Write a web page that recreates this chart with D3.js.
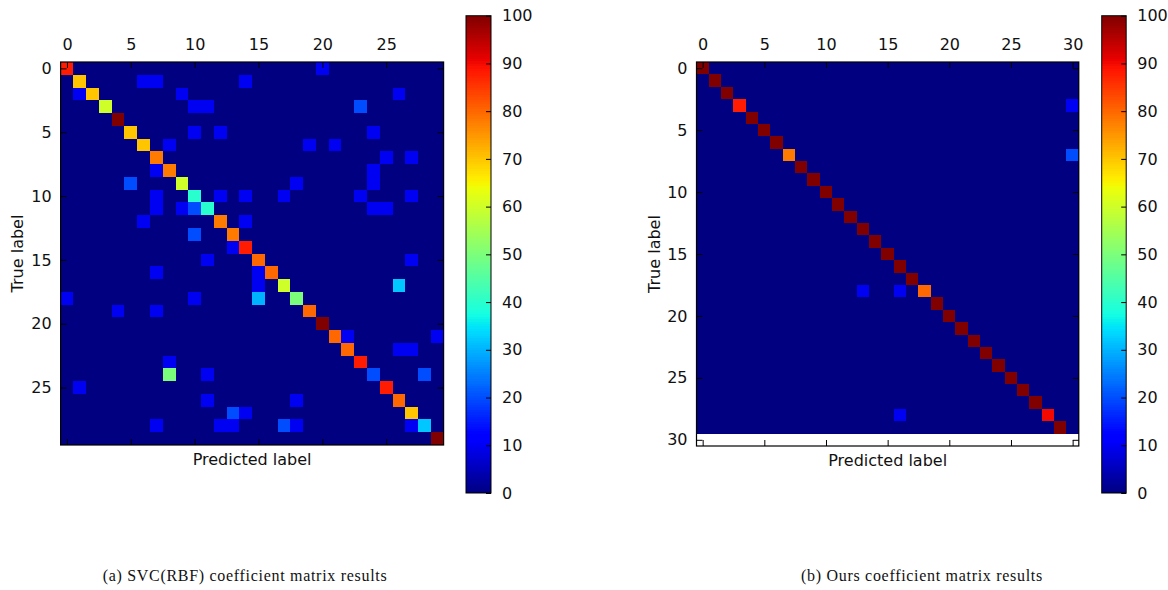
<!DOCTYPE html>
<html>
<head>
<meta charset="utf-8">
<script src="https://cdn.jsdelivr.net/npm/d3@7"></script>
<style>
  html, body { margin: 0; padding: 0; background: #fff; }
  svg { display: block; }
  .tick-label { font-family: "DejaVu Sans", sans-serif; font-size: 16px; fill: #111; }
  .axis-title { font-family: "DejaVu Sans", sans-serif; font-size: 16px; fill: #111; }
  .caption { font-family: "Liberation Serif", "Times New Roman", serif; font-size: 16px; letter-spacing: 0.7px; fill: #111; }
</style>
</head>
<body>
<svg id="chart" width="1168" height="590"></svg>
<script>
// ---------- DATA ----------
// (a) SVC(RBF): 30x30 matrix, diagonal values (%)
const leftDiag = [88, 70, 70, 60, 100, 70, 70, 78, 78, 60,
                  40, 40, 78, 78, 88, 80, 80, 60, 50, 80,
                  100, 80, 80, 88, 20, 88, 80, 70, 32, 100];
// off-diagonal entries [row, col, value]
const leftOff = [
  [0,20,10],
  [1,6,10],[1,7,10],[1,14,10],
  [2,1,10],[2,9,10],[2,26,10],
  [3,10,10],[3,11,10],[3,23,20],
  [5,10,10],[5,12,10],[5,24,10],
  [6,8,10],[6,19,10],[6,21,10],
  [7,25,10],[7,27,10],
  [8,7,10],[8,24,10],
  [9,5,20],[9,18,10],[9,24,10],
  [10,7,10],[10,12,10],[10,14,10],[10,17,10],[10,23,10],[10,27,10],
  [11,7,10],[11,9,10],[11,10,20],[11,24,10],[11,25,10],
  [12,6,10],[12,14,10],
  [13,10,20],
  [14,13,10],
  [15,11,10],[15,27,10],
  [16,7,10],[16,15,10],
  [17,15,10],[17,26,32],
  [18,0,10],[18,10,10],[18,15,30],
  [19,4,10],[19,7,10],
  [21,22,10],[21,29,10],
  [22,26,10],[22,27,10],
  [23,8,10],
  [24,8,50],[24,11,10],[24,28,20],
  [25,1,10],
  [26,11,10],[26,18,10],
  [27,13,20],[27,14,10],
  [28,7,10],[28,12,10],[28,13,10],[28,17,20],[28,18,10],[28,27,10]
];
// (b) Ours: 30 rows x 31 columns
const rightDiag = [100, 100, 100, 88, 100, 100, 100, 78, 100, 100,
                   100, 100, 100, 100, 100, 100, 100, 100, 80, 100,
                   100, 100, 100, 100, 100, 100, 100, 100, 90, 100];
const rightOff = [[3,30,10],[7,30,20],[18,13,10],[18,16,10],[28,16,10]];

const leftTicks = [0, 5, 10, 15, 20, 25];
const rightTicks = [0, 5, 10, 15, 20, 25, 30];
const cbarTicks = [0, 10, 20, 30, 40, 50, 60, 70, 80, 90, 100];
const captions = ["(a) SVC(RBF) coefficient matrix results", "(b) Ours coefficient matrix results"];
const xTitle = "Predicted label";
const yTitle = "True label";

// ---------- COLORMAP (matplotlib jet) ----------
const jr = d3.scaleLinear().domain([0, 0.35, 0.66, 0.89, 1]).range([0, 0, 1, 1, 0.5]).clamp(true);
const jg = d3.scaleLinear().domain([0, 0.125, 0.375, 0.64, 0.91, 1]).range([0, 0, 1, 1, 0, 0]).clamp(true);
const jb = d3.scaleLinear().domain([0, 0.11, 0.34, 0.65, 1]).range([0.5, 1, 1, 0, 0]).clamp(true);
const jet = v => { const t = v / 100; return d3.rgb(jr(t) * 255, jg(t) * 255, jb(t) * 255).toString(); };

function buildMatrix(nr, nc, diag, off) {
  const cells = [];
  for (let r = 0; r < nr; r++) for (let c = 0; c < nc; c++) cells.push({ r, c, v: 0 });
  diag.forEach((v, i) => { cells[i * nc + i].v = v; });
  off.forEach(([r, c, v]) => { cells[r * nc + c].v = v; });
  return cells;
}

const svg = d3.select("#chart");

function drawPanel(opt) {
  const g = svg.append("g");
  const x = d3.scaleLinear().domain(opt.xDomain).range([opt.x0, opt.x0 + opt.w]);
  const y = d3.scaleLinear().domain(opt.yDomain).range([opt.y0, opt.y0 + opt.h]);
  const cells = buildMatrix(opt.nr, opt.nc, opt.diag, opt.off);
  g.selectAll("rect.cell").data(cells).enter().append("rect")
    .attr("class", "cell")
    .attr("x", d => x(d.c - 0.5))
    .attr("y", d => y(d.r - 0.5))
    .attr("width", d => x(d.c + 0.5) - x(d.c - 0.5) + 0.3)
    .attr("height", d => y(d.r + 0.5) - y(d.r - 0.5) + 0.3)
    .attr("fill", d => jet(d.v))
    .attr("shape-rendering", "crispEdges");

  const tl = 6;
  const top = d3.axisTop(x).tickValues(opt.ticks).tickSizeInner(-tl).tickSizeOuter(0).tickPadding(tl + 6);
  const bottom = d3.axisBottom(x).tickValues(opt.ticks).tickSizeInner(-tl).tickSizeOuter(0).tickFormat("");
  const left = d3.axisLeft(y).tickValues(opt.yticks).tickSizeInner(-tl).tickSizeOuter(0).tickPadding(tl + 3);
  const right = d3.axisRight(y).tickValues(opt.yticks).tickSizeInner(-tl).tickSizeOuter(0).tickFormat("");

  const gt = g.append("g").attr("transform", `translate(0,${opt.y0})`).call(top);
  const gb = g.append("g").attr("transform", `translate(0,${opt.y0 + opt.h})`).call(bottom);
  const gl = g.append("g").attr("transform", `translate(${opt.x0},0)`).call(left);
  const gr = g.append("g").attr("transform", `translate(${opt.x0 + opt.w},0)`).call(right);
  [gt, gb, gl, gr].forEach(a => {
    a.select(".domain").remove();
    a.selectAll("line").attr("stroke", "#000").attr("stroke-width", 1);
    a.selectAll("text").attr("class", "tick-label").attr("font-size", null).attr("font-family", null).attr("fill", null);
  });
  g.append("rect").attr("x", opt.x0).attr("y", opt.y0).attr("width", opt.w).attr("height", opt.h)
    .attr("fill", "none").attr("stroke", "#000").attr("stroke-width", 1.2);

  g.append("text").attr("class", "axis-title")
    .attr("x", opt.x0 + opt.w / 2).attr("y", opt.y0 + opt.h + 20)
    .attr("text-anchor", "middle").text(xTitle);
  g.append("text").attr("class", "axis-title")
    .attr("transform", `translate(${opt.ytx},${opt.y0 + opt.h / 2}) rotate(-90)`)
    .attr("text-anchor", "middle").text(yTitle);

  // colorbar
  const cb = svg.append("g");
  const cy = d3.scaleLinear().domain([0, 100]).range([opt.cbY1, opt.cbY0]);
  const steps = d3.range(0, 100, 0.5);
  cb.selectAll("rect.cb").data(steps).enter().append("rect")
    .attr("x", opt.cbX).attr("width", opt.cbW)
    .attr("y", d => cy(d + 0.5)).attr("height", d => cy(d) - cy(d + 0.5) + 0.4)
    .attr("fill", d => jet(d + 0.25))
    .attr("shape-rendering", "crispEdges");
  const cax = d3.axisRight(cy).tickValues(cbarTicks).tickSizeInner(-5).tickSizeOuter(0).tickPadding(11);
  const gc = cb.append("g").attr("transform", `translate(${opt.cbX + opt.cbW},0)`).call(cax);
  gc.select(".domain").remove();
  gc.selectAll("line").attr("stroke", "#000");
  gc.selectAll("text").attr("class", "tick-label").attr("font-size", null).attr("font-family", null).attr("fill", null);
  cb.append("rect").attr("x", opt.cbX).attr("y", opt.cbY0).attr("width", opt.cbW).attr("height", opt.cbY1 - opt.cbY0)
    .attr("fill", "none").attr("stroke", "#000").attr("stroke-width", 1);

  svg.append("text").attr("class", "caption").attr("x", opt.capX).attr("y", 581)
    .attr("text-anchor", "middle").text(opt.caption);
}

drawPanel({
  x0: 60.6, y0: 62, w: 383, h: 383,
  xDomain: [-0.5, 29.5], yDomain: [-0.5, 29.5],
  nr: 30, nc: 30, diag: leftDiag, off: leftOff,
  ticks: leftTicks, yticks: leftTicks, ytx: 23,
  cbX: 466, cbW: 25, cbY0: 15.7, cbY1: 493,
  capX: 245, caption: captions[0]
});
drawPanel({
  x0: 696.5, y0: 62, w: 382.3, h: 384,
  xDomain: [-0.5, 30.5], yDomain: [-0.5, 30.5],
  nr: 30, nc: 31, diag: rightDiag, off: rightOff,
  ticks: rightTicks, yticks: rightTicks, ytx: 660,
  cbX: 1101.7, cbW: 24.5, cbY0: 15.7, cbY1: 493,
  capX: 922, caption: captions[1]
});
</script>
</body>
</html>
